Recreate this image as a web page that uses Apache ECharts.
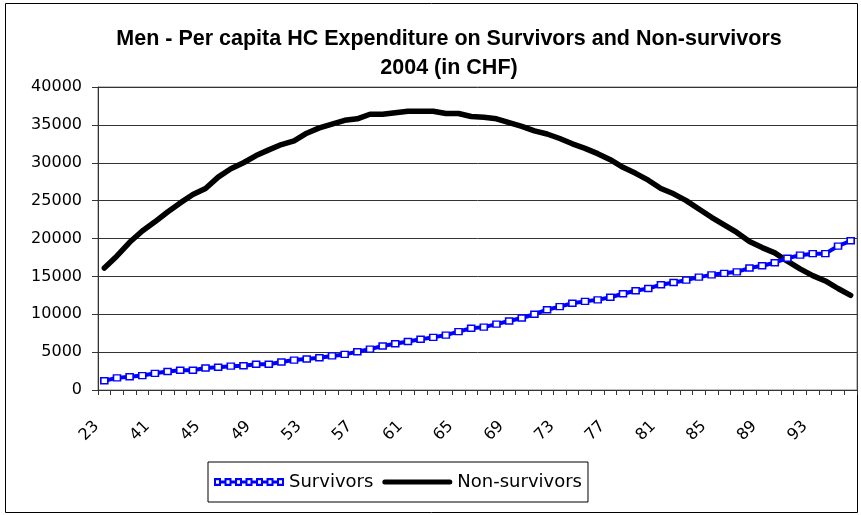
<!DOCTYPE html>
<html>
<head>
<meta charset="utf-8">
<script src="https://cdn.jsdelivr.net/npm/echarts@6/dist/echarts.min.js"></script>
<style>
html,body{margin:0;padding:0;background:#fff;}
#chart{width:861px;height:515px;}
</style>
</head>
<body>
<div id="chart"></div>
<script>
const titleText = "Men - Per capita HC Expenditure on Survivors and Non-survivors\n2004 (in CHF)";
const ages = ["23","38","39","40"];
for (let a = 41; a <= 96; a++) ages.push(String(a));
const seriesNames = ["Survivors", "Non-survivors"];
const survivors = [
  1230,1600,1750,1900,2200,2450,2600,2600,2900,3000,
  3150,3200,3400,3400,3700,3950,4100,4250,4500,4700,
  5050,5400,5800,6100,6400,6700,6950,7250,7700,8150,
  8300,8700,9100,9500,10000,10600,11000,11450,11700,11900,
  12250,12700,13100,13400,13900,14200,14500,14900,15200,15400,
  15600,16100,16400,16800,17400,17800,18000,18000,19000,19700
];
const nonSurvivors = [
  16100,17700,19500,21000,22200,23500,24700,25800,26600,28100,
  29200,30000,30950,31700,32400,32900,33900,34600,35100,35600,
  35800,36400,36400,36600,36800,36800,36800,36500,36500,36100,
  36000,35800,35300,34800,34200,33800,33200,32500,31900,31200,
  30400,29400,28600,27700,26600,25900,25000,23900,22800,21800,
  20800,19600,18800,18100,17000,16000,15100,14400,13400,12500
];
const yTicks = {min: 0, max: 40000, interval: 5000};

// legend icon shapes (drawn in a 70 x 8 box)
function survivorsIconPath() {
  let p = '';
  const n = 7, w = 7, step = (70 - w) / (n - 1);
  for (let k = 0; k < n; k++) {
    const x = k * step;
    p += `M${x},0 L${x + w},0 L${x + w},8 L${x},8 Z `;
    p += `M${x + 2},2.3 L${x + 2},5.7 L${x + 5},5.7 L${x + 5},2.3 Z `;
    if (k < n - 1) p += `M${x + w},2.5 L${x + step},2.5 L${x + step},5.5 L${x + w},5.5 Z `;
  }
  return 'path://' + p;
}
const nonSurvIcon = 'path://M0,8 L0.01,8 Z M2.5,1.5 L67.5,1.5 A2.5,2.5 0 0 1 67.5,6.5 L2.5,6.5 A2.5,2.5 0 0 1 2.5,1.5 Z M0,0 L0.01,0 Z M70,0 L69.99,0 Z';

const chart = echarts.init(document.getElementById('chart'), null, {renderer: 'canvas'});
chart.setOption({
  animation: false,
  backgroundColor: '#fff',
  graphic: [{
    type: 'rect', shape: {x: 5.5, y: 3.5, width: 852, height: 509},
    style: {fill: 'none', stroke: '#000', lineWidth: 1}, z: -1
  }],
  title: {
    text: titleText, top: 20, left: 444, textAlign: 'center',
    textStyle: {fontFamily: 'Liberation Sans, Arial', fontWeight: 'bold', fontSize: 21.5, lineHeight: 29, color: '#000'}
  },
  legend: {
    left: 208, top: 462, orient: 'horizontal',
    padding: [11, 6], itemGap: 9, itemWidth: 70, itemHeight: 8,
    symbolKeepAspect: true,
    borderColor: '#000', borderWidth: 1,
    textStyle: {fontFamily: 'DejaVu Sans', fontSize: 18, color: '#000'},
    data: [
      {name: seriesNames[0], icon: survivorsIconPath(), itemStyle: {color: '#0000ff', borderWidth: 0}},
      {name: seriesNames[1], icon: nonSurvIcon, itemStyle: {color: '#000', borderWidth: 0}}
    ]
  },
  grid: {left: 98, right: 4, top: 87, bottom: 125, show: true, borderColor: '#808080', borderWidth: 1},
  xAxis: {
    type: 'category', data: ages, boundaryGap: true,
    axisLine: {lineStyle: {color: '#333', width: 1}},
    axisTick: {show: true, interval: 0, length: 5, lineStyle: {color: '#333'}},
    axisLabel: {interval: 3, rotate: 45, margin: 26, padding: [0, 11, 0, 0], fontFamily: 'DejaVu Sans', fontSize: 16, color: '#000'},
    splitLine: {show: false}
  },
  yAxis: {
    type: 'value', min: yTicks.min, max: yTicks.max, interval: yTicks.interval,
    axisLine: {show: true, lineStyle: {color: '#333', width: 1}},
    axisTick: {show: true, length: 6, lineStyle: {color: '#333'}},
    axisLabel: {margin: 16, fontFamily: 'DejaVu Sans', fontSize: 16, color: '#000', formatter: v => String(v)},
    splitLine: {show: true, lineStyle: {color: '#333', width: 1}}
  },
  series: [
    {
      name: seriesNames[0], type: 'line', data: survivors,
      symbol: 'rect', symbolSize: [7, 6], showSymbol: true,
      lineStyle: {color: '#0000ff', width: 4},
      itemStyle: {color: '#fff', borderColor: '#0000ff', borderWidth: 1.5},
      z: 3
    },
    {
      name: seriesNames[1], type: 'line', data: nonSurvivors,
      symbol: 'none', showSymbol: false,
      lineStyle: {color: '#000', width: 5.5, cap: 'round', join: 'round'},
      itemStyle: {color: '#000'},
      z: 2
    }
  ]
});
</script>
</body>
</html>
